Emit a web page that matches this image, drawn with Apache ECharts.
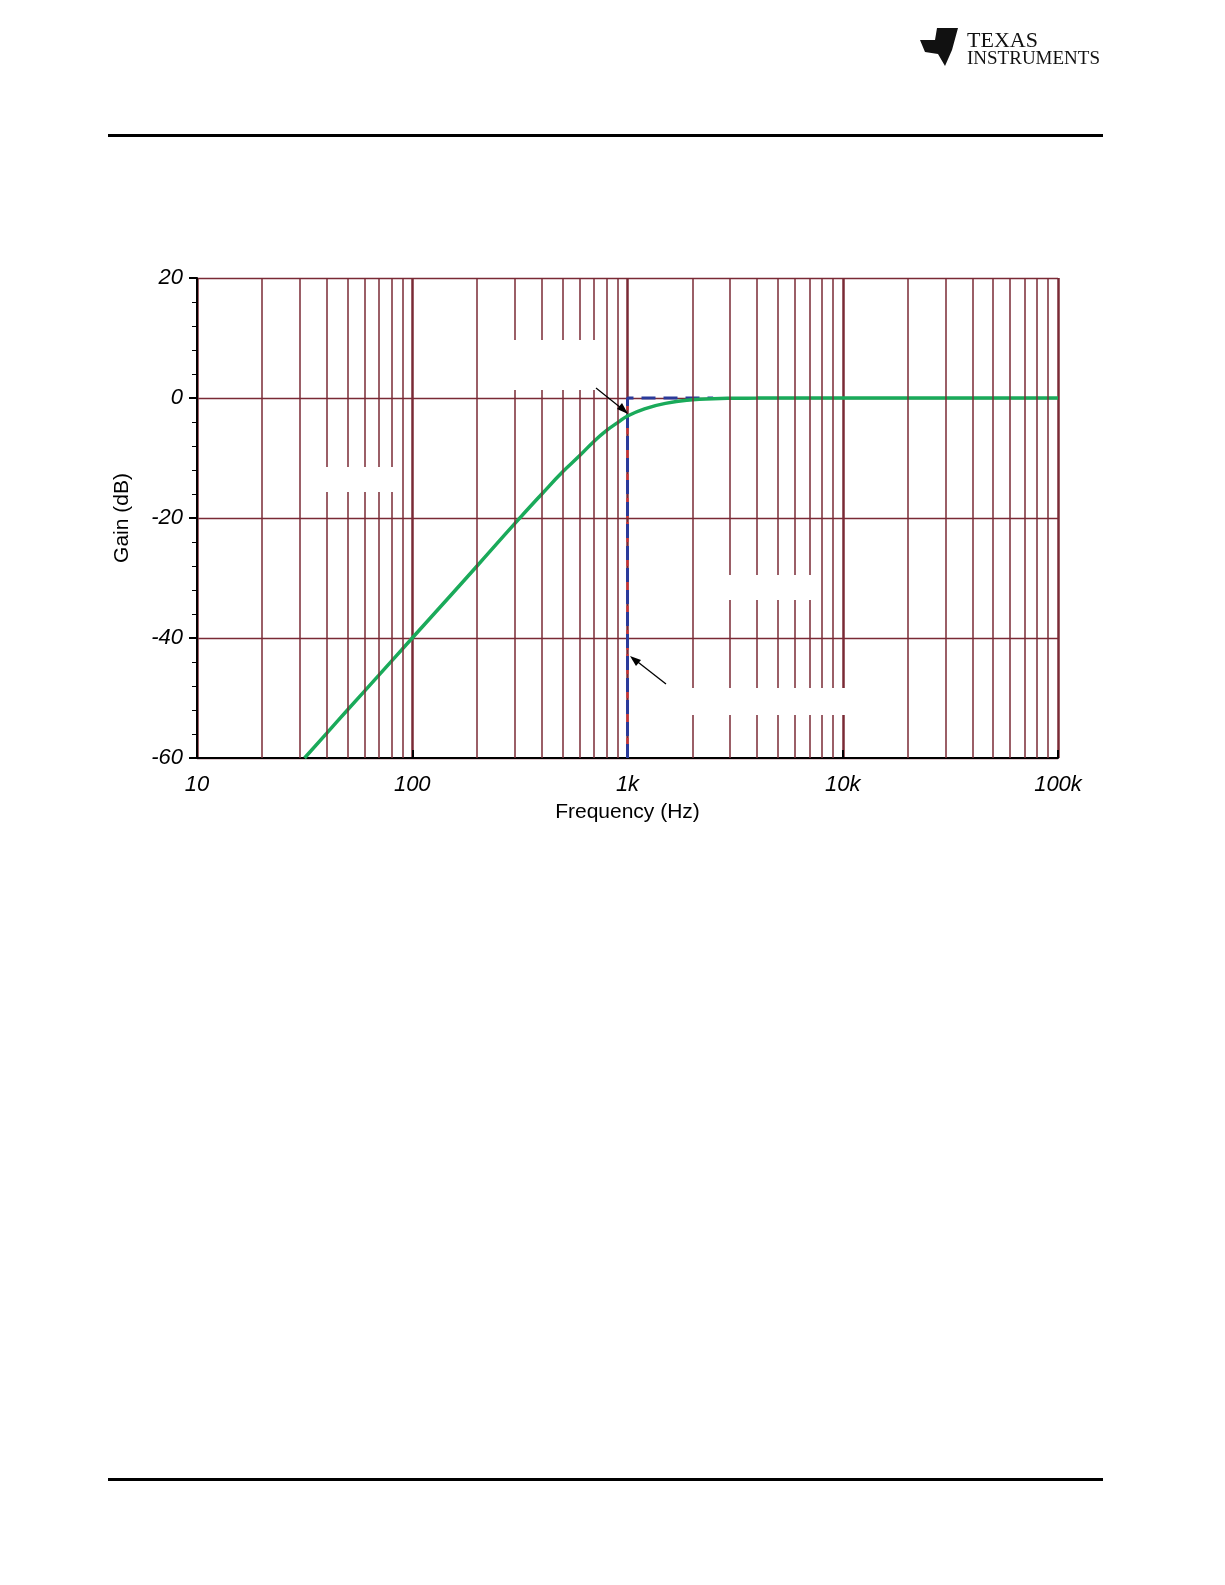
<!DOCTYPE html>
<html><head><meta charset="utf-8">
<script src="https://cdn.jsdelivr.net/npm/echarts@6/dist/echarts.min.js"></script>
<style>body{margin:0;background:#fff}#c{width:1225px;height:1585px}</style>
</head><body><div id="c"></div>
<script>
const freq = [31.6, 40, 50, 70, 100, 150, 200, 300, 400, 500, 600, 700, 800, 900, 1000, 1200, 1500, 2000, 2500, 3000, 4000, 5000, 10000, 100000];
const gain = [-60, -55.9, -52, -46.2, -40, -33, -28, -20.9, -16, -12.3, -9.6, -7.2, -5.4, -4.1, -3, -1.8, -0.9, -0.3, -0.12, -0.05, -0.02, 0, 0, 0];
const ideal = [[1000, -60], [1000, 0], [2500, 0]];
const gridFreqs = [20,30,40,50,60,70,80,90,200,300,400,500,600,700,800,900,2000,3000,4000,5000,6000,7000,8000,9000,20000,30000,40000,50000,60000,70000,80000,90000];
const xLabels = {10:'10',100:'100',1000:'1k',10000:'10k',100000:'100k'};
const gridColor = '#7a2a35';
const chart = echarts.init(document.getElementById('c'));
chart.setOption({
  animation:false,
  grid:{left:197,right:167,top:278,bottom:827},
  xAxis:{type:'log',min:10,max:100000,logBase:10,
    name:'Frequency (Hz)',nameLocation:'middle',nameGap:44,
    nameTextStyle:{fontFamily:'Liberation Sans',fontSize:21,color:'#000'},
    axisLine:{onZero:false,lineStyle:{color:'#000',width:2}},
    axisTick:{show:true,inside:true,length:8,lineStyle:{color:'#000',width:2}},
    axisLabel:{formatter:v=>xLabels[v]||'',fontFamily:'Liberation Sans',fontStyle:'italic',fontSize:22,color:'#000',margin:16},
    splitLine:{show:true,lineStyle:{color:gridColor,width:2.5}}},
  yAxis:{type:'value',min:-60,max:20,interval:20,
    name:'Gain (dB)',nameLocation:'middle',nameGap:64,
    nameTextStyle:{fontFamily:'Liberation Sans',fontSize:21,color:'#000'},
    axisLine:{show:true,lineStyle:{color:'#000',width:2}},
    axisTick:{show:true,inside:false,length:8,lineStyle:{color:'#000',width:2}},
    minorTick:{show:true,splitNumber:5,length:5,lineStyle:{color:'#000'}},
    axisLabel:{fontFamily:'Liberation Sans',fontStyle:'italic',fontSize:22,color:'#000',margin:14},
    splitLine:{show:true,lineStyle:{color:gridColor,width:1.3}}},
  series:[
    {type:'line',data:[],silent:true,
      markLine:{silent:true,symbol:'none',label:{show:false},
        lineStyle:{color:gridColor,type:'solid',width:1.5},
        data:gridFreqs.map(f=>({xAxis:f}))}},
    {type:'line',data:[[1000,-60],[1000,0]],showSymbol:false,lineStyle:{color:'#d03030',width:2,type:'dashed'}},
    {type:'line',data:ideal,showSymbol:false,lineStyle:{color:'#2a3a9a',width:3,type:[14,8]}},
    {type:'line',data:freq.map((f,i)=>[f,gain[i]]),smooth:true,showSymbol:false,lineStyle:{color:'#1aaa5a',width:3.5}}
  ],
  graphic:[
    {type:'rect',z:100,shape:{x:108,y:134,width:995,height:3},style:{fill:'#000'}},
    {type:'rect',z:100,shape:{x:108,y:1478,width:995,height:3},style:{fill:'#000'}},
    {type:'text',z:100,left:967,top:30,style:{text:'TEXAS',font:'22px "Liberation Serif"',fill:'#111'}},
    {type:'text',z:100,left:967,top:50,style:{text:'INSTRUMENTS',font:'19px "Liberation Serif"',fill:'#111'}},
    {type:'polygon',z:100,shape:{points:[[920,40],[935,40],[937,28],[958,28],[952,50],[945,66],[938,54],[925,52]]},style:{fill:'#111'}},
    {type:'rect',z:100,shape:{x:500,y:340,width:100,height:50},style:{fill:'#fff'}},
    {type:'rect',z:100,shape:{x:320,y:467,width:75,height:25},style:{fill:'#fff'}},
    {type:'rect',z:100,shape:{x:728,y:575,width:90,height:25},style:{fill:'#fff'}},
    {type:'rect',z:100,shape:{x:690,y:688,width:165,height:27},style:{fill:'#fff'}},
    {type:'line',z:100,shape:{x1:596,y1:388,x2:626,y2:412},style:{stroke:'#000',lineWidth:1.3}},
    {type:'polygon',z:100,shape:{points:[[628,414],[617,409],[622,403]]},style:{fill:'#000'}},
    {type:'line',z:100,shape:{x1:666,y1:684,x2:634,y2:659},style:{stroke:'#000',lineWidth:1.3}},
    {type:'polygon',z:100,shape:{points:[[630,656],[641,660],[636,666]]},style:{fill:'#000'}}
  ]
});
</script></body></html>
